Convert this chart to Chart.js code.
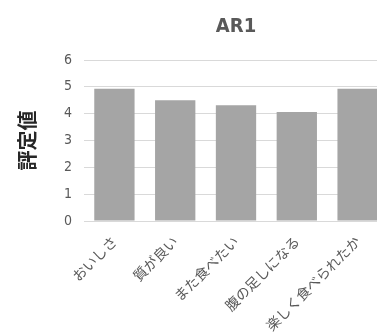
<!DOCTYPE html>
<html>
<head>
<meta charset="utf-8">
<script src="https://cdn.jsdelivr.net/npm/chart.js@4"></script>
<style>
  html, body { margin: 0; padding: 0; background: #fff; overflow: hidden; }
  #wrap { width: 377px; height: 332px; overflow: hidden; position: relative; }
  #box { position: absolute; left: 0; top: 0; width: 388px; height: 338px; }
</style>
</head>
<body>
<div id="wrap"><div id="box"><canvas id="chart"></canvas></div></div>
<script>
  const categories = ["おいしさ", "質が良い", "また食べたい", "腹の足しになる", "楽しく食べられたか"];
  const scores = [4.93, 4.5, 4.31, 4.06, 4.93];
  const chartTitle = "AR1";
  const yAxisTitle = "評定値";

  const narrow = "'DejaVu Sans Condensed', 'Roboto', sans-serif";
  const jp = "'Noto Sans CJK JP', sans-serif";

  new Chart(document.getElementById("chart"), {
    type: "bar",
    data: {
      labels: categories,
      datasets: [
        {
          data: scores,
          backgroundColor: "#a5a5a5",
          categoryPercentage: 0.663,
          barPercentage: 1,
        },
      ],
    },
    options: {
      responsive: true,
      maintainAspectRatio: false,
      animation: false,
      layout: { padding: { left: 15, top: 10, right: 0, bottom: 0 } },
      scales: {
        x: {
          grid: { display: false },
          border: { color: "#d9d9d9", width: 1 },
          ticks: {
            color: "#595959",
            font: { family: jp, size: 14 },
            minRotation: 45,
            maxRotation: 45,
            padding: 4,
          },
        },
        y: {
          min: 0,
          max: 6,
          ticks: {
            stepSize: 1,
            color: "#595959",
            font: { family: narrow, size: 14 },
            padding: 12,
          },
          grid: { color: "#d9d9d9", drawTicks: false },
          border: { display: false },
          title: {
            display: true,
            text: yAxisTitle,
            color: "#262626",
            font: { family: jp, size: 20, weight: "bold" },
            padding: { top: 0, bottom: 13 },
          },
        },
      },
      plugins: {
        legend: { display: false },
        tooltip: { enabled: false },
        title: {
          display: true,
          text: chartTitle,
          fullSize: false,
          color: "#595959",
          font: { family: narrow, size: 20, weight: "bold" },
          padding: { top: 5, bottom: 21 },
        },
      },
    },
  });
</script>
</body>
</html>
